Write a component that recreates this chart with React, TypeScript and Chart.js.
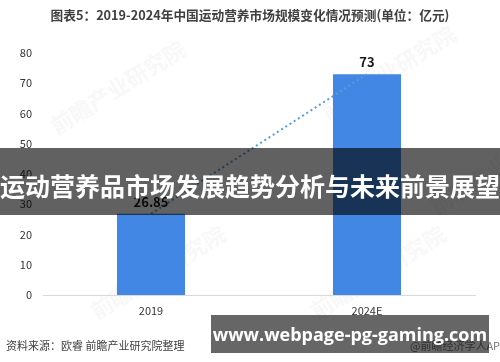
import React, { useEffect, useRef } from "react";
import { Chart, registerables } from "chart.js";

Chart.register(...registerables);

const categories: string[] = ["2019", "2024E"];
const marketSize: number[] = [26.85, 73];
const trendValues: number[] = [26.85, 73];
const yTickValues: number[] = [0, 10, 20, 30, 40, 50, 60, 70, 80];

const titleText = "图表5：2019-2024年中国运动营养市场规模变化情况预测(单位：亿元)";
const sourceText = "资料来源：欧睿 前瞻产业研究院整理";
const creditText = "@前瞻经济学人APP";
const bannerText = "运动营养品市场发展趋势分析与未来前景展望";
const siteText = "www.webpage-pg-gaming.com";
const watermarkText = "前瞻产业研究院";

const FONT = '"Noto Sans CJK SC", "Noto Sans", sans-serif';

const barLabelPlugin = {
  id: "barLabels",
  afterDatasetsDraw(chart: any) {
    const meta = chart.getDatasetMeta(0);
    const ctx = chart.ctx;
    ctx.save();
    ctx.fillStyle = "#1a1a1a";
    ctx.textAlign = "center";
    ctx.textBaseline = "middle";
    meta.data.forEach((bar: any, i: number) => {
      ctx.font = `bold 13px ${FONT}`;
      ctx.fillText(String(marketSize[i]), bar.x, bar.y - 12);
    });
    ctx.restore();
  },
};

export default function App() {
  const canvasRef = useRef<HTMLCanvasElement | null>(null);

  useEffect(() => {
    if (!canvasRef.current) return;
    const chart = new Chart(canvasRef.current, {
      type: "bar",
      data: {
        labels: categories,
        datasets: [
          {
            type: "bar",
            data: marketSize,
            backgroundColor: "#4287e3",
            borderWidth: 0,
            categoryPercentage: 1,
            barPercentage: 0.315,
            order: 2,
          },
          {
            type: "line",
            data: trendValues,
            borderColor: "#5b9bd5",
            borderWidth: 2,
            borderDash: [2, 3],
            pointRadius: 0,
            fill: false,
            order: 1,
          } as any,
        ],
      },
      options: {
        animation: false,
        responsive: false,
        maintainAspectRatio: false,
        layout: { padding: { top: 53, right: 25, left: 0, bottom: 0 } },
        plugins: {
          legend: { display: false },
          title: { display: false },
          tooltip: { enabled: false },
        },
        scales: {
          x: {
            grid: { display: false, drawTicks: false },
            border: { display: true, color: "#d9d9d9", width: 1 },
            ticks: {
              color: "#333333",
              font: { family: FONT, size: 11 },
              padding: 9,
            },
            afterFit: (scale: any) => {
              scale.height = 67;
            },
          },
          y: {
            min: 0,
            max: 80,
            grid: { display: false, drawTicks: false },
            border: { display: false },
            afterBuildTicks: (scale: any) => {
              scale.ticks = yTickValues.map((v) => ({ value: v }));
            },
            ticks: {
              color: "#333333",
              font: { family: FONT, size: 11 },
              padding: 11,
            },
            afterFit: (scale: any) => {
              scale.width = 43;
            },
          },
        },
      },
      plugins: [barLabelPlugin],
    });
    return () => chart.destroy();
  }, []);

  const watermarks = [
    { x: 40, y: 70 },
    { x: 310, y: 55 },
    { x: 80, y: 255 },
    { x: 300, y: 255 },
    { x: 420, y: 150 },
  ];

  return (
    <div
      style={{
        position: "fixed",
        left: 0,
        top: 0,
        width: 500,
        height: 362,
        background: "#ffffff",
        overflow: "hidden",
        fontFamily: FONT,
      }}
    >
      {watermarks.map((w, i) => (
        <div
          key={i}
          style={{
            position: "absolute",
            left: w.x,
            top: w.y,
            fontSize: 22,
            fontWeight: 700,
            color: "rgba(200,200,200,0.14)",
            transform: "rotate(-32deg)",
            whiteSpace: "nowrap",
            pointerEvents: "none",
          }}
        >
          {watermarkText}
        </div>
      ))}
      <canvas
        ref={canvasRef}
        width={500}
        height={362}
        style={{ position: "absolute", left: 0, top: 0, width: 500, height: 362 }}
      />
      <div
        style={{
          position: "absolute",
          left: 0,
          top: 6,
          width: 500,
          textAlign: "center",
          fontSize: 12.7,
          fontWeight: 700,
          color: "#404040",
          whiteSpace: "nowrap",
          lineHeight: "18px",
        }}
      >
        {titleText}
      </div>
      <div
        style={{
          position: "absolute",
          left: 6,
          top: 337,
          fontSize: 11,
          color: "#404040",
          whiteSpace: "nowrap",
          lineHeight: "16px",
        }}
      >
        {sourceText}
      </div>
      <div
        style={{
          position: "absolute",
          left: 410,
          top: 337,
          fontSize: 11,
          color: "#777777",
          whiteSpace: "nowrap",
          lineHeight: "16px",
        }}
      >
        {creditText}
      </div>
      <div
        style={{
          position: "absolute",
          left: 0,
          top: 148,
          width: 500,
          height: 67,
          background: "rgba(0,0,0,0.62)",
          display: "flex",
          alignItems: "center",
          justifyContent: "center",
          paddingTop: 6,
          boxSizing: "border-box",
        }}
      >
        <span
          style={{
            color: "#ffffff",
            fontSize: 25,
            fontWeight: 700,
            whiteSpace: "nowrap",
            lineHeight: "30px",
          }}
        >
          {bannerText}
        </span>
      </div>
      <div
        style={{
          position: "absolute",
          left: 211,
          top: 315,
          width: 278,
          height: 38,
          background: "rgba(0,0,0,0.6)",
          display: "flex",
          alignItems: "center",
          justifyContent: "center",
        }}
      >
        <span
          style={{
            color: "#ffffff",
            fontSize: 18,
            fontWeight: 700,
            whiteSpace: "nowrap",
            fontFamily: '"Open Sans", "Noto Sans", sans-serif',
            lineHeight: "24px",
          }}
        >
          {siteText}
        </span>
      </div>
    </div>
  );
}
